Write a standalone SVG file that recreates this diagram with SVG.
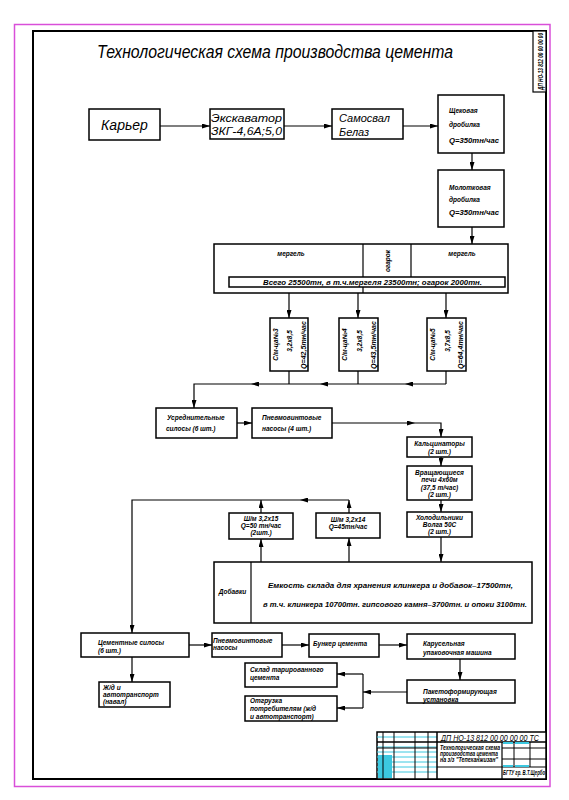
<svg xmlns="http://www.w3.org/2000/svg" width="569" height="800" viewBox="0 0 569 800">
<defs>
<marker id="ar" markerUnits="userSpaceOnUse" markerWidth="8" markerHeight="5" refX="8" refY="2.5" orient="auto">
<path d="M0,0 L8,2.5 L0,5 z" fill="#000"/>
</marker>
<style>
.b{fill:#fff;stroke:#000;stroke-width:1.5}
.t{font-family:"Liberation Sans",Arial,sans-serif;font-style:italic;font-weight:bold;font-size:6.5px;fill:#000}
.m{text-anchor:middle}
.g{font-family:"Liberation Sans",Arial,sans-serif;font-style:italic;fill:#000}
.c line,.c path{stroke:#000;stroke-width:1.2;fill:none}
.a{marker-end:url(#ar)}
.cy{stroke:#3cc8e0;stroke-width:1}
.tb{stroke:#000;stroke-width:1;fill:none}
</style>
</defs>
<rect width="569" height="800" fill="#fff"/>
<rect x="14.5" y="24.5" width="535.5" height="762" fill="none" stroke="#d94fd9" stroke-width="1.5"/>
<rect x="33" y="31" width="513" height="748" fill="none" stroke="#000" stroke-width="2"/>
<g id="stamp">
<rect x="533" y="31" width="13" height="61" fill="#fff" stroke="#000" stroke-width="1.2"/>
<text class="t" transform="translate(542.5,90) rotate(-90)" font-size="8" textLength="57" lengthAdjust="spacingAndGlyphs">ДП НО-13 812 00 00 00 00</text>
</g>
<text class="g" x="97" y="58" font-size="18" textLength="356" lengthAdjust="spacingAndGlyphs">Технологическая схема производства цемента</text>

<g class="c">
<line class="a" x1="160" y1="126" x2="210" y2="126"/>
<line class="a" x1="284" y1="126" x2="332" y2="126"/>
<line class="a" x1="403" y1="126" x2="438" y2="126"/>
<line class="a" x1="472" y1="153" x2="472" y2="170"/>
<line class="a" x1="472" y1="227" x2="472" y2="244"/>
<line class="a" x1="289" y1="293" x2="289" y2="318"/>
<line class="a" x1="358" y1="293" x2="358" y2="318"/>
<line class="a" x1="446" y1="293" x2="446" y2="318"/>
<line x1="289" y1="371" x2="289" y2="384"/>
<line x1="358" y1="371" x2="358" y2="384"/>
<line x1="446" y1="371" x2="446" y2="384"/>
<line class="a" x1="446" y1="384" x2="405" y2="384"/>
<line class="a" x1="405" y1="384" x2="320" y2="384"/>
<line class="a" x1="320" y1="384" x2="251" y2="384"/>
<path class="a" d="M251,384 H194 V408"/>
<line class="a" x1="237" y1="423" x2="252" y2="423"/>
<line class="a" x1="332" y1="423" x2="415" y2="423"/>
<path class="a" d="M415,423 H441 V437"/>
<line class="a" x1="441" y1="457" x2="441" y2="466"/>
<line class="a" x1="441" y1="500" x2="441" y2="512"/>
<line class="a" x1="441" y1="537" x2="441" y2="562"/>
<line class="a" x1="261" y1="562" x2="261" y2="539"/>
<line class="a" x1="261" y1="513" x2="261" y2="500"/>
<line class="a" x1="349" y1="562" x2="349" y2="538"/>
<line class="a" x1="349" y1="513" x2="349" y2="500"/>
<line class="a" x1="349" y1="500" x2="300" y2="500"/>
<path class="a" d="M300,500 H132 V633"/>
<line class="a" x1="132" y1="657" x2="132" y2="682"/>
<line class="a" x1="189" y1="645" x2="212" y2="645"/>
<line class="a" x1="282" y1="645" x2="309" y2="645"/>
<line class="a" x1="379" y1="645" x2="407" y2="645"/>
<line class="a" x1="460" y1="659" x2="460" y2="680"/>
<line class="a" x1="407" y1="692" x2="363" y2="692"/>
<line x1="363" y1="674" x2="363" y2="708"/>
<line class="a" x1="363" y1="674" x2="337" y2="674"/>
<line class="a" x1="363" y1="708" x2="337" y2="708"/>
</g>

<g id="karier"><rect class="b" x="89" y="109" width="71" height="31"/>
<text class="g m" x="124.5" y="130" font-size="14">Карьер</text></g>
<g id="ekskavator"><rect class="b" x="210" y="109" width="74" height="30"/>
<text class="g" x="211" y="122" font-size="11" textLength="71" lengthAdjust="spacingAndGlyphs">Экскаватор</text>
<text class="g" x="211" y="135" font-size="11" textLength="71" lengthAdjust="spacingAndGlyphs">ЗКГ-4,6А;5,0</text></g>
<g id="samosval"><rect class="b" x="332" y="109" width="71" height="30"/>
<text class="g" x="339" y="122" font-size="11">Самосвал</text>
<text class="g" x="339" y="136" font-size="11">Белаз</text></g>
<g id="shchek"><rect class="b" x="438" y="95" width="66" height="58"/>
<text class="t" x="449" y="113">Щековая</text>
<text class="t" x="449" y="127">дробилка</text>
<text class="t" x="449" y="143" textLength="50" lengthAdjust="spacingAndGlyphs">Q=350тн/час</text></g>
<g id="molot"><rect class="b" x="438" y="170" width="66" height="57"/>
<text class="t" x="449" y="190">Молотковая</text>
<text class="t" x="449" y="202">дробилка</text>
<text class="t" x="449" y="215" textLength="50" lengthAdjust="spacingAndGlyphs">Q=350тн/час</text></g>

<g id="sklad-syrya">
<rect class="b" x="214" y="244" width="294" height="49"/>
<line x1="363" y1="244" x2="363" y2="293" stroke="#000" stroke-width="1.2"/>
<line x1="411" y1="244" x2="411" y2="277" stroke="#000" stroke-width="1.2"/>
<rect class="b" x="229" y="277" width="276" height="10" stroke-width="1.2"/>
<text class="t m" x="291" y="256" font-size="6">мергель</text>
<text class="t m" x="462" y="256" font-size="6">мергель</text>
<text class="t m" transform="translate(390,261) rotate(-90)" font-size="6">огарок</text>
<text class="t" x="263" y="285" textLength="219" lengthAdjust="spacingAndGlyphs">Всего 25500тн, в т.ч.мергеля 23500тн; огарок 2000тн.</text>
</g>

<g id="mill3"><rect class="b" x="270" y="318" width="38" height="53"/>
<text class="t m" transform="translate(278,344.5) rotate(-90)">С/м-ца№3</text>
<text class="t m" transform="translate(292,341) rotate(-90)">3,2х8,5</text>
<text class="t m" transform="translate(306,345) rotate(-90)" textLength="48" lengthAdjust="spacingAndGlyphs">Q=42,5тн/час</text></g>
<g id="mill4"><rect class="b" x="339" y="318" width="39" height="53"/>
<text class="t m" transform="translate(347,344.5) rotate(-90)">С/м-ца№4</text>
<text class="t m" transform="translate(362,341) rotate(-90)">3,2х8,5</text>
<text class="t m" transform="translate(376,345) rotate(-90)" textLength="48" lengthAdjust="spacingAndGlyphs">Q=43,5тн/час</text></g>
<g id="mill5"><rect class="b" x="427" y="318" width="39" height="53"/>
<text class="t m" transform="translate(435,344.5) rotate(-90)">С/м-ца№5</text>
<text class="t m" transform="translate(450,341) rotate(-90)">3,7х8,5</text>
<text class="t m" transform="translate(463,345) rotate(-90)" textLength="48" lengthAdjust="spacingAndGlyphs">Q=64,4тн/час</text></g>

<g id="usredn"><rect class="b" x="156" y="408" width="81" height="30"/>
<text class="t" x="167" y="420">Усреднительные</text>
<text class="t" x="166" y="431">силосы (6 шт.)</text></g>
<g id="pnevmo1"><rect class="b" x="252" y="408" width="80" height="30"/>
<text class="t" x="262" y="420">Пневмовинтовые</text>
<text class="t" x="262" y="431">насосы (4 шт.)</text></g>
<g id="kalc"><rect class="b" x="407" y="437" width="65" height="20"/>
<text class="t m" x="439.5" y="446">Кальцинаторы</text>
<text class="t m" x="439.5" y="454">(2 шт.)</text></g>
<g id="pech"><rect class="b" x="407" y="466" width="65" height="34"/>
<text class="t m" x="439.5" y="475">Вращающиеся</text>
<text class="t m" x="439.5" y="482">печи 4х60м</text>
<text class="t m" x="439.5" y="490">(37,5 т/час)</text>
<text class="t m" x="439.5" y="497">(2 шт.)</text></g>
<g id="holod"><rect class="b" x="407" y="512" width="65" height="25"/>
<text class="t m" x="439.5" y="520">Холодильники</text>
<text class="t m" x="439.5" y="527">Волга 50С</text>
<text class="t m" x="439.5" y="534">(2 шт.)</text></g>
<g id="shm1"><rect class="b" x="229" y="513" width="64" height="26"/>
<text class="t m" x="261" y="521">Ш/м 3,2х15</text>
<text class="t m" x="261" y="528">Q=50 тн/час</text>
<text class="t m" x="261" y="535">(2шт.)</text></g>
<g id="shm2"><rect class="b" x="316" y="513" width="64" height="25"/>
<text class="t m" x="348" y="522">Ш/м 3,2х14</text>
<text class="t m" x="348" y="529">Q=45тн/час</text></g>
<g id="dobavki"><rect class="b" x="214" y="562" width="318" height="61"/>
<line x1="251" y1="562" x2="251" y2="623" stroke="#000" stroke-width="1.2"/>
<text class="t m" x="232.5" y="594">Добавки</text>
<text class="t" x="268" y="588" textLength="245" lengthAdjust="spacingAndGlyphs">Емкость склада для хранения клинкера и добавок–17500тн,</text>
<text class="t" x="263" y="607" textLength="264" lengthAdjust="spacingAndGlyphs">в т.ч. клинкера 10700тн. гипсового камня–3700тн. и опоки 3100тн.</text></g>

<g id="cem-silos"><rect class="b" x="81" y="633" width="108" height="24"/>
<text class="t" x="98" y="645">Цементные силосы</text>
<text class="t" x="98" y="653">(6 шт.)</text></g>
<g id="zhd"><rect class="b" x="99" y="682" width="71" height="25"/>
<text class="t" x="103" y="690">Ж/д и</text>
<text class="t" x="103" y="697">автотранспорт</text>
<text class="t" x="103" y="704">(навал)</text></g>
<g id="pnevmo2"><rect class="b" x="212" y="633" width="70" height="24"/>
<text class="t" x="213" y="643">Пневмовинтовые</text>
<text class="t" x="213" y="650">насосы</text></g>
<g id="bunker"><rect class="b" x="309" y="634" width="70" height="23"/>
<text class="t" x="313" y="646">Бункер цемента</text></g>
<g id="karusel"><rect class="b" x="407" y="634" width="108" height="25"/>
<text class="t" x="423" y="646">Карусельная</text>
<text class="t" x="423" y="655">упаковочная машина</text></g>
<g id="paketo"><rect class="b" x="407" y="680" width="108" height="23"/>
<text class="t" x="423" y="694">Пакетоформирующая</text>
<text class="t" x="423" y="702">установка</text></g>
<g id="sklad-tar"><rect class="b" x="245" y="663" width="92" height="24"/>
<text class="t" x="250" y="672">Склад тарированного</text>
<text class="t" x="250" y="680">цемента</text></g>
<g id="otgruzka"><rect class="b" x="245" y="696" width="92" height="25"/>
<text class="t" x="250" y="703">Отгрузка</text>
<text class="t" x="250" y="711">потребителям (ж/д</text>
<text class="t" x="250" y="719">и автотранспорт)</text></g>

<g id="titleblock">
<rect x="377" y="732" width="169" height="47" fill="#fff" stroke="#000" stroke-width="1.5"/>
<path class="cy" d="M377,737 H437 M377,747 H437 M377,752 H437 M377,757 H437 M377,762 H437 M377,767 H437 M377,772 H437"/>
<rect x="378" y="755" width="14" height="23" fill="#3cc8e0"/>
<path class="tb" d="M383,732 V779 M394,732 V779 M415,732 V779 M428,732 V779"/>
<line x1="437" y1="732" x2="437" y2="779" stroke="#000" stroke-width="1.5"/>
<line x1="377" y1="742" x2="546" y2="742" stroke="#000" stroke-width="1.5"/>
<line x1="377" y1="748" x2="437" y2="748" stroke="#000" stroke-width="1.2"/>
<text class="g" x="441" y="740.5" font-size="9" textLength="98" lengthAdjust="spacingAndGlyphs">ДП НО-13 812 00 00 00 00 ТС</text>
<line x1="502" y1="742" x2="502" y2="779" stroke="#000" stroke-width="1.2"/>
<line x1="437" y1="767" x2="546" y2="767" stroke="#000" stroke-width="1.2"/>
<path class="tb" d="M502,748 H546 M502,759 H546 M514,742 V767 M530,742 V767"/>
<path d="M503,743 H513 M515,743 H529 M503,766 H513 M515,766 H529" stroke="#3cc8e0" stroke-width="2"/>
<text class="t" x="440" y="750" font-size="5.5" textLength="60" lengthAdjust="spacingAndGlyphs">Технологическая схема</text>
<text class="t" x="440" y="756" font-size="5.5" textLength="58" lengthAdjust="spacingAndGlyphs">производства цемента</text>
<text class="t" x="440" y="762" font-size="5.5" textLength="58" lengthAdjust="spacingAndGlyphs">на з/з "Тепеханжизан"</text>
<text class="t" x="503" y="775" font-size="5.5" textLength="42" lengthAdjust="spacingAndGlyphs">БГТУ гр. В.Т.Щербо</text>
</g>
</svg>
